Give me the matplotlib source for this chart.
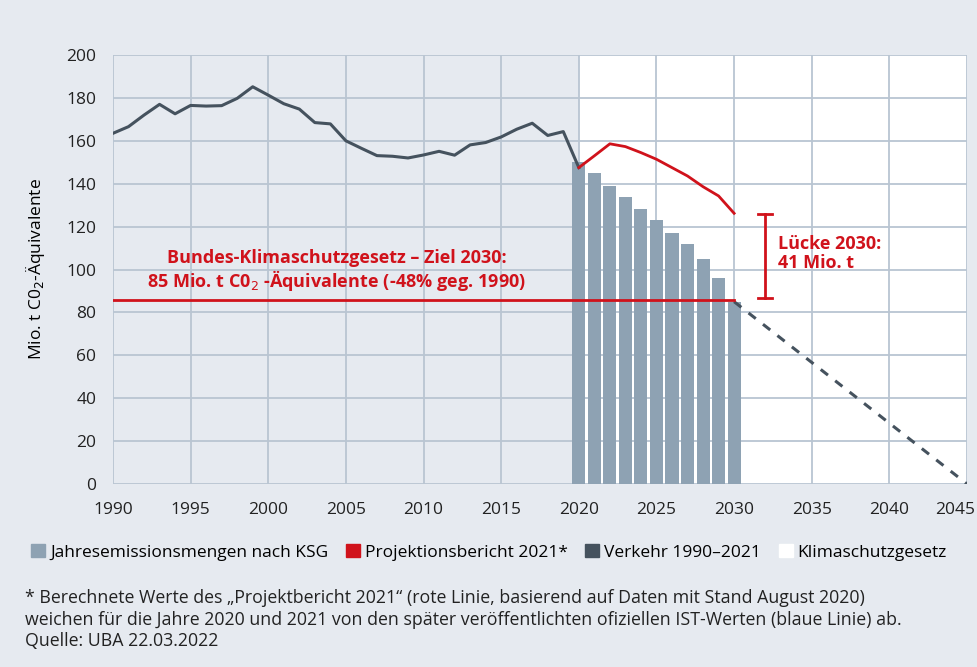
import matplotlib.pyplot as plt
import matplotlib.transforms as mtransforms
from matplotlib.patches import Patch

# Verkehr 1990-2020 (Ist-Werte)
years_ist = list(range(1990, 2021))
verkehr = [163.5, 166.6, 172, 177, 172.6, 176.5, 176.2, 176.4, 179.8, 185.2,
           181.3, 177.3, 174.8, 168.5, 167.9, 160, 156.5, 153.1, 152.8, 152,
           153.4, 155.1, 153.3, 158.1, 159.2, 161.8, 165.4, 168.2, 162.5, 164.3,
           147.5]

# Projektionsbericht 2021
years_proj = list(range(2020, 2031))
projektion = [147.5, 153, 158.6, 157.3, 154.5, 151.4, 147.5, 143.6, 138.6, 134.3, 126.2]

# Jahresemissionsmengen nach KSG
years_ksg = list(range(2020, 2031))
ksg = [150, 145, 139, 134, 128, 123, 117, 112, 105, 96, 85]

# Klimaschutzgesetz Pfad bis 2045
years_path = [2030, 2045]
path = [85, 0]

ziel_2030 = 85
luecke_top = 126
luecke_year = 2032

BG = "#e6eaf0"
GRID = "#b9c5d2"
BAR = "#8ea2b3"
RED = "#d0121b"
DARK = "#45525e"

plt.rcParams["font.family"] = ["Open Sans", "DejaVu Sans"]

fig = plt.figure(figsize=(9.78, 6.67), dpi=100, facecolor=BG)
ax = fig.add_axes([0.1155, 0.2744, 0.8733, 0.6431])
ax.set_facecolor(BG)
ax.axvspan(2020, 2045, color="white", zorder=0)

ax.set_xlim(1990, 2045)
ax.set_ylim(0, 200)
ax.set_xticks([1990, 1995, 2000, 2005, 2010, 2015, 2020, 2025, 2030, 2035, 2040, 2045])
ax.set_yticks(range(0, 201, 20))
ax.grid(True, color=GRID, linewidth=1.3, zorder=1)
ax.set_axisbelow(True)
for s in ax.spines.values():
    s.set_visible(False)
ax.tick_params(length=0, labelsize=12.5, colors="#222222")
ax.tick_params(axis="x", pad=13)
ax.tick_params(axis="y", pad=12)

# last x label sits left of the edge
last = ax.get_xticklabels()[-1]
last.set_transform(last.get_transform() + mtransforms.ScaledTranslation(-0.12, 0, fig.dpi_scale_trans))

ax.bar(years_ksg, ksg, width=0.84, color=BAR, zorder=2)
ax.plot(years_ist, verkehr, color=DARK, linewidth=2.2, zorder=4)
ax.plot(years_proj, projektion, color=RED, linewidth=2, zorder=5)
ax.plot(years_path, path, color=DARK, linewidth=2.2, linestyle=(0, (3, 3)), zorder=4)
ax.plot([1990, 2030], [ziel_2030 + 1, ziel_2030 + 1], color=RED, linewidth=2, zorder=5)

# Lücke bracket
ax.plot([luecke_year, luecke_year], [ziel_2030 + 1.5, luecke_top], color=RED, linewidth=2, zorder=5)
for yv in [ziel_2030 + 1.5, luecke_top]:
    ax.plot([luecke_year - 0.45, luecke_year + 0.45], [yv, yv], color=RED, linewidth=2, zorder=5)
ax.text(luecke_year + 0.8, 107.5, "Lücke 2030:\n41 Mio. t", color=RED, fontsize=13,
        fontweight="bold", va="center", ha="left", linespacing=1.1)

ax.text(2004.4, 99.5, "Bundes-Klimaschutzgesetz – Ziel 2030:\n85 Mio. t C0$_2$ -Äquivalente (-48% geg. 1990)",
        color=RED, fontsize=13, fontweight="bold", ha="center", va="center", linespacing=1.05, zorder=6)

ax.set_ylabel("Mio. t C0$_2$-Äquivalente", fontsize=12.5, labelpad=14)

handles = [Patch(color=BAR), Patch(color=RED), Patch(color=DARK), Patch(color="white")]
labels = ["Jahresemissionsmengen nach KSG", "Projektionsbericht 2021*", "Verkehr 1990–2021", "Klimaschutzgesetz"]
fig.legend(handles, labels, loc="center left", bbox_to_anchor=(0.016, 0.172), ncol=4, frameon=False,
           fontsize=12.5, handlelength=0.8, handleheight=0.8, handletextpad=0.3, columnspacing=1.0)

fig.text(0.026, 0.0705,
         "* Berechnete Werte des „Projektbericht 2021“ (rote Linie, basierend auf Daten mit Stand August 2020)\n"
         "weichen für die Jahre 2020 und 2021 von den später veröffentlichten ofiziellen IST-Werten (blaue Linie) ab.\n"
         "Quelle: UBA 22.03.2022",
         fontsize=12.8, va="center", ha="left", linespacing=1.25, color="#222222")

fig.savefig("out.png", dpi=100, facecolor=BG)
